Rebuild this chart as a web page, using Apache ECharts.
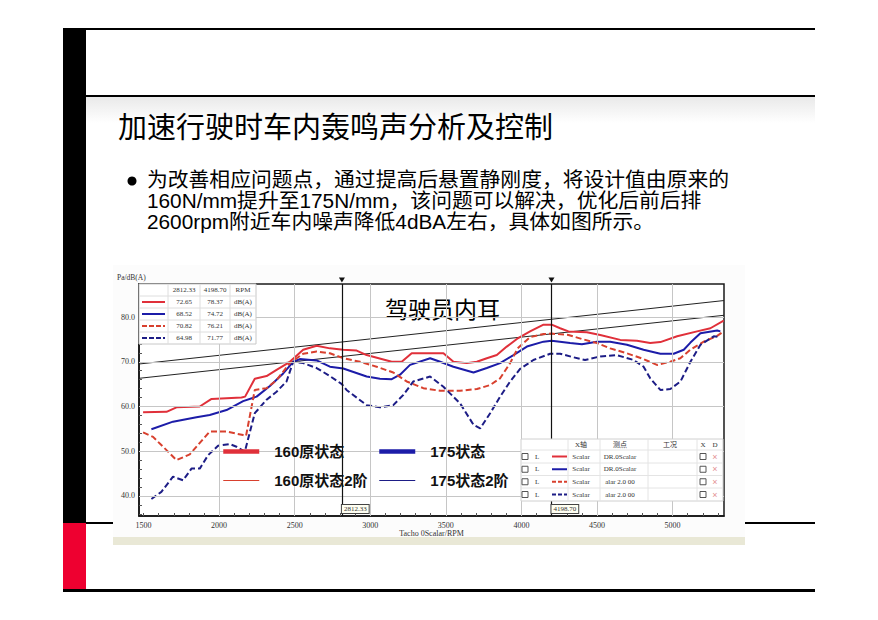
<!DOCTYPE html>
<html><head><meta charset="utf-8">
<script src="https://cdn.jsdelivr.net/npm/echarts@6/dist/echarts.min.js"></script>
<style>html,body{margin:0;padding:0;background:#fff}#c{width:878px;height:620px}</style>
</head><body><div id="c"></div>
<script>
// ---------------- data ----------------
const slideTitle = '加速行驶时车内轰鸣声分析及控制';
const bulletLines = [
  '为改善相应问题点，通过提高后悬置静刚度，将设计值由原来的',
  '160N/mm提升至175N/mm，该问题可以解决，优化后前后排',
  '2600rpm附近车内噪声降低4dBA左右，具体如图所示。'
];
const chartTitle = '驾驶员内耳';
const xName = 'Tacho 0Scalar/RPM';
const yName = 'Pa/dB(A)';
const xLabels = [1500, 2000, 2500, 3000, 3500, 4000, 4500, 5000];
const yLabels = [40, 50, 60, 70, 80];
const xGrid = [2000, 2500, 3000, 3500, 4000, 4500, 5000];
const yGrid = [40, 50, 60, 70, 80];
const xRange = [1470, 5340];
const yRange = [35.5, 87.4];

const seriesNames = ['160原状态', '175状态', '160原状态2阶', '175状态2阶'];

const rpm160 = [1497,1652,1718,1872,1950,2148,2172,2236,2314,2380,2468,2556,2645,2733,2821,2910,2976,3142,3208,3274,3484,3550,3638,3705,3771,3837,3903,3970,4057,4146,4200,4256,4311,4433,4521,4654,4764,4852,4919,5030,5162,5250,5338];
const db160  = [58.7,58.8,59.8,60.0,61.7,62.0,62.2,66.2,66.8,68.2,70.0,72.7,73.6,73.0,72.7,72.5,71.5,70.0,70.0,71.9,71.9,70.0,69.7,70.0,70.8,71.5,73.4,75.1,76.8,78.3,78.3,77.5,76.8,76.6,76.0,74.9,74.7,74.2,74.4,75.7,76.8,77.5,79.2];

const rpm175 = [1552,1695,1850,1938,2049,2159,2248,2336,2424,2490,2534,2645,2733,2821,2976,3064,3142,3197,3263,3396,3462,3550,3683,3771,3859,3947,4036,4146,4200,4322,4400,4499,4587,4698,4808,4919,5007,5074,5118,5184,5295,5316];
const db175  = [54.9,56.6,57.6,58.1,59.2,61.2,62.2,64.6,67.4,70.0,70.6,70.3,68.9,68.5,66.7,66.2,66.1,67.1,69.3,70.8,70.0,68.9,67.6,68.6,69.7,71.5,73.4,74.5,74.7,74.2,73.9,74.5,74.5,73.8,72.7,71.8,71.8,72.7,74.3,76.4,77.0,76.8];

const rpm160o2 = [1497,1563,1629,1718,1806,1938,2049,2159,2178,2236,2314,2380,2468,2556,2645,2733,2821,2932,3042,3152,3241,3351,3462,3594,3705,3793,3859,3925,3975,4057,4146,4200,4311,4400,4499,4587,4698,4808,4896,4985,5051,5118,5206,5295,5338];
const db160o2  = [54.2,53.2,51.0,48.0,49.3,54.4,54.4,53.6,53.4,63.7,64.1,65.9,69.7,71.8,72.3,71.9,70.8,70.0,68.9,67.6,65.6,64.1,63.5,63.5,63.9,64.8,66.3,69.7,73.0,75.5,76.2,76.3,76.0,75.1,74.2,73.0,71.9,70.6,69.3,70.0,70.8,72.7,74.5,75.8,76.8];

const rpm175o2 = [1552,1618,1695,1762,1817,1872,1927,1993,2071,2115,2170,2236,2314,2380,2446,2490,2556,2645,2733,2812,2843,2976,3064,3152,3219,3285,3396,3484,3594,3683,3727,3793,3859,3925,3991,4079,4190,4256,4344,4421,4521,4631,4742,4808,4852,4919,4985,5052,5118,5184,5272,5316];
const db175o2  = [39.3,40.9,44.3,43.5,46.1,46.1,49.1,51.2,51.6,51.0,49.9,58.5,61.5,63.3,65.6,70.0,69.7,68.6,66.8,65.0,63.7,60.3,59.8,60.3,62.6,65.6,66.7,64.4,60.7,55.9,55.1,58.5,62.2,65.6,68.4,70.4,71.8,71.8,71.0,70.4,71.2,71.5,70.4,68.9,66.3,63.7,63.9,65.6,70.0,73.8,75.7,75.5];

const refUpper = [[1470, 69.5], [5340, 83.7]];
const refLower = [[1470, 66.3], [5340, 80.4]];

const cursorRpm = [2812.33, 4198.70];
const cursorHeader = ['2812.33', '4198.70', 'RPM'];
const cursorValues = [['72.65','78.37'],['68.52','74.72'],['70.82','76.21'],['64.98','71.77']];
const cursorUnit = 'dB(A)';

const tableHeader = ['X轴', '测点', '工况', 'X', 'D'];
const tableAxis = ['Scalar', 'Scalar', 'Scalar', 'Scalar'];
const tablePoint = ['DR.0Scalar', 'DR.0Scalar', 'alar 2.0 00', 'alar 2.0 00'];

// ---------------- styles ----------------
const RED = '#e0303a', BLUE = '#1c1ca8', RED2 = '#d8402e', BLUE2 = '#1d1d86';
const colors = [RED, BLUE, RED2, BLUE2];
const dashed = [false, false, true, true];
const SANS = "'Liberation Sans','Noto Sans CJK SC',sans-serif";
const CJK = "'Noto Sans CJK SC',sans-serif";
const SERIF = "'Liberation Serif','Noto Sans CJK SC',serif";

function zip(a, b) { return a.map((x, i) => [x, b[i]]); }
function txt(text, x, y, size, opt) {
  opt = opt || {};
  const el = { type: 'text', z: opt.z == null ? 50 : opt.z, silent: true,
    style: { text: text, x: x, y: y, fill: opt.fill || '#000',
      fontSize: size, fontFamily: opt.family || SANS, fontWeight: opt.weight || 'normal',
      lineHeight: opt.lineHeight || null,
      align: opt.align || 'left', textAlign: opt.align || 'left',
      verticalAlign: opt.valign || 'middle', textVerticalAlign: opt.valign || 'middle' } };
  if (opt.scaleX) { el.scaleX = opt.scaleX; el.originX = x; el.originY = y; }
  return el;
}
function rect(x, y, w, h, fill, z, stroke) {
  return { type: 'rect', z: z, silent: true, shape: { x: x, y: y, width: w, height: h },
    style: { fill: fill, stroke: stroke || null, lineWidth: stroke ? 1 : 0 } };
}
function seg(x1, y1, x2, y2, color, w, dash, z) {
  return { type: 'line', z: z == null ? 51 : z, silent: true, shape: { x1: x1, y1: y1, x2: x2, y2: y2 },
    style: { stroke: color, lineWidth: w, lineDash: dash || null } };
}

const G = [];
// slide decoration
G.push(rect(63, 522, 752, 2, '#000', -20));
G.push(rect(63, 28, 752, 2, '#000', -20));
G.push(rect(86, 95, 729, 2, '#000', -20));
G.push({ type: 'rect', z: -21, silent: true, shape: { x: 86, y: 97, width: 729, height: 26 },
  style: { fill: new echarts.graphic.LinearGradient(0, 0, 0, 1, [{ offset: 0, color: '#e9e9e9' }, { offset: 1, color: '#ffffff' }]) } });
G.push(rect(63, 28, 23, 495, '#000', -20));
G.push(rect(63, 523, 23, 67, '#ee0030', -20));
G.push(rect(63, 589, 752, 3, '#000', -20));
G.push(txt(slideTitle, 118, 128, 29, { family: SANS, z: -10 }));
G.push({ type: 'circle', z: -10, silent: true, shape: { cx: 132, cy: 181, r: 4.5 }, style: { fill: '#000' } });
G.push(txt(bulletLines.join('\n'), 147, 170, 20, { z: -10, lineHeight: 21, valign: 'top', scaleX: 1.04 }));
// chart picture background
G.push(rect(113, 265, 632, 280, '#fcfcfc', -15));
G.push(rect(113, 537, 632, 8, '#e9e8d6', -14));
G.push(txt(yName, 117, 277, 7.5, { family: SERIF, fill: '#333', z: 5 }));
G.push(txt(chartTitle, 385, 308, 23, { family: CJK, z: 5 }));

// top-left cursor table
(function () {
  const cx = [139, 168, 200, 230, 256];
  const ry = [284, 296, 308, 320, 332, 344];
  G.push(rect(139, 284, 117, 60, '#ffffff', 48, '#c8c8c8'));
  for (let i = 1; i < ry.length - 1; i++) G.push(seg(139, ry[i], 256, ry[i], '#dedede', 1, null, 49));
  for (let j = 1; j < cx.length - 1; j++) G.push(seg(cx[j], 284, cx[j], 344, '#dedede', 1, null, 49));
  cursorHeader.forEach((h, j) => G.push(txt(h, (cx[j + 1] + cx[j + 2]) / 2, 290, 7, { family: SERIF, fill: '#333', align: 'center' })));
  cursorValues.forEach((row, i) => {
    const y = (ry[i + 1] + ry[i + 2]) / 2;
    G.push(seg(142, y, 165, y, colors[i], 2, dashed[i] ? [5, 2] : null));
    G.push(txt(row[0], (cx[1] + cx[2]) / 2, y, 7, { family: SERIF, fill: '#333', align: 'center' }));
    G.push(txt(row[1], (cx[2] + cx[3]) / 2, y, 7, { family: SERIF, fill: '#333', align: 'center' }));
    G.push(txt(cursorUnit, (cx[3] + cx[4]) / 2, y, 7, { family: SERIF, fill: '#333', align: 'center' }));
  });
})();

// bottom-right series table
(function () {
  const ry = [439, 450, 463, 475.5, 488, 501];
  const colC = [581, 620, 670, 703, 715];
  G.push(rect(521, 439, 202, 62, '#ffffff', 48, '#d0d0d0'));
  for (let i = 1; i < ry.length - 1; i++) G.push(seg(521, ry[i], 723, ry[i], '#e4e4e4', 1, null, 49));
  [568, 600, 648, 697].forEach(x => G.push(seg(x, 439, x, 501, '#e4e4e4', 1, null, 49)));
  tableHeader.forEach((h, j) => G.push(txt(h, colC[j], 444.5, 7, { family: SERIF, fill: '#333', align: 'center' })));
  tableAxis.forEach((a, i) => {
    const y = (ry[i + 1] + ry[i + 2]) / 2;
    G.push(rect(522, y - 3, 6, 6, '#fff', 50, '#555'));
    G.push(txt('L', 535, y, 7, { family: SERIF, fill: '#333' }));
    G.push(seg(552, y, 567, y, colors[i], 2, dashed[i] ? [4, 2] : null));
    G.push(txt(a, colC[0], y, 7, { family: SERIF, fill: '#333', align: 'center' }));
    G.push(txt(tablePoint[i], colC[1], y, 7, { family: SERIF, fill: '#333', align: 'center' }));
    G.push(rect(700, y - 3, 6, 6, '#fff', 50, '#555'));
    G.push(txt('×', 715, y, 9, { fill: '#e49090', align: 'center' }));
  });
})();

const dataSeries = [zip(rpm160, db160), zip(rpm175, db175), zip(rpm160o2, db160o2), zip(rpm175o2, db175o2)];

const series = [];
// grid lines
series.push({ type: 'line', data: [], z: 1, silent: true,
  markLine: { silent: true, symbol: ['none', 'none'], label: { show: false }, animation: false,
    lineStyle: { color: '#c6c6c6', width: 1, type: 'solid' },
    data: xGrid.map(v => ({ xAxis: v })).concat(yGrid.map(v => ({ yAxis: v }))) } });
// reference straight lines
[refUpper, refLower].forEach(d => series.push({ type: 'line', data: d, symbol: 'none', silent: true, z: 2,
  lineStyle: { color: '#222', width: 1 } }));
// measured curves
dataSeries.forEach((d, i) => series.push({
  name: seriesNames[i], type: 'line', data: d, symbol: 'none', z: 3, silent: true,
  itemStyle: { color: colors[i] },
  lineStyle: { color: colors[i], width: 2, type: dashed[i] ? [6, 3] : 'solid' }
}));
// cursors
series.push({ type: 'line', data: [], z: 4, silent: true,
  markLine: { silent: true, symbol: ['none', 'none'], label: { show: false }, animation: false,
    lineStyle: { color: '#111', width: 1.2, type: 'solid' },
    data: cursorRpm.map(v => ({ xAxis: v })) },
  markPoint: { silent: true, animation: false,
    data: cursorRpm.map(v => ({ coord: [v, yRange[1]], symbol: 'triangle', symbolRotate: 180, symbolSize: [6, 5], symbolOffset: [0, -4],
      itemStyle: { color: '#111' }, label: { show: false } }))
      .concat(cursorRpm.map((v, i) => ({ coord: [v, yRange[0]], symbol: 'rect', symbolSize: 1, itemStyle: { color: 'rgba(0,0,0,0)' },
        label: { show: true, formatter: cursorHeader[i], position: [0.5, -10.5], fontSize: 7, fontFamily: SERIF, color: '#333',
          backgroundColor: '#fffff2', borderColor: '#444', borderWidth: 1, padding: [1, 2, 0, 2] } })))
  } });

const hiddenDot = { color: 'rgba(0,0,0,0)', borderColor: 'rgba(0,0,0,0)', borderWidth: 0 };
const legendText = { fontSize: 15, fontWeight: 'bold', fontFamily: SANS, color: '#111', padding: [0, 0, 0, 10] };
const legendCommon = { orient: 'vertical', top: 439, itemWidth: 36, itemHeight: 14, itemGap: 14, selectedMode: false,
  textStyle: legendText, z: 20 };
function legItem(i, w) { return { name: seriesNames[i], itemStyle: hiddenDot, lineStyle: { width: w, type: 'solid', color: colors[i] } }; }

const option = {
  animation: false,
  backgroundColor: '#ffffff',
  grid: { left: 139, top: 284, right: 154, bottom: 104, show: true, backgroundColor: '#ffffff',
    borderColor: '#1a1a1a', borderWidth: 1.5 },
  legend: [
    Object.assign({ left: 216, data: [legItem(0, 4.5), legItem(2, 1.2)] }, legendCommon),
    Object.assign({ left: 372, data: [legItem(1, 4.5), legItem(3, 1.2)] }, legendCommon)
  ],
  xAxis: { type: 'value', min: xRange[0], max: xRange[1], name: xName, nameLocation: 'middle', nameGap: 12,
    nameTextStyle: { fontSize: 8, fontFamily: SERIF, color: '#333' },
    axisLine: { show: true, lineStyle: { color: '#111', width: 1.5 } },
    axisTick: { show: true, inside: true, length: 3, lineStyle: { color: '#555' },
      customValues: Array.from({ length: 39 }, (_, i) => 1500 + i * 100) },
    axisLabel: { customValues: xLabels, fontSize: 8, fontFamily: SERIF, color: '#333', margin: 5,
      formatter: v => String(v) },
    splitLine: { show: false } },
  yAxis: { type: 'value', min: yRange[0], max: yRange[1],
    axisLine: { show: true, lineStyle: { color: '#111', width: 1.5 } },
    axisTick: { show: true, inside: true, length: 3, lineStyle: { color: '#555' },
      customValues: Array.from({ length: 26 }, (_, i) => 36 + i * 2) },
    axisLabel: { customValues: yLabels, fontSize: 8, fontFamily: SERIF, color: '#333', margin: 4,
      formatter: v => Number(v).toFixed(1) },
    splitLine: { show: false } },
  graphic: { elements: G },
  series: series
};

const chart = echarts.init(document.getElementById('c'), null, { renderer: 'svg' });
chart.setOption(option);
</script></body></html>
